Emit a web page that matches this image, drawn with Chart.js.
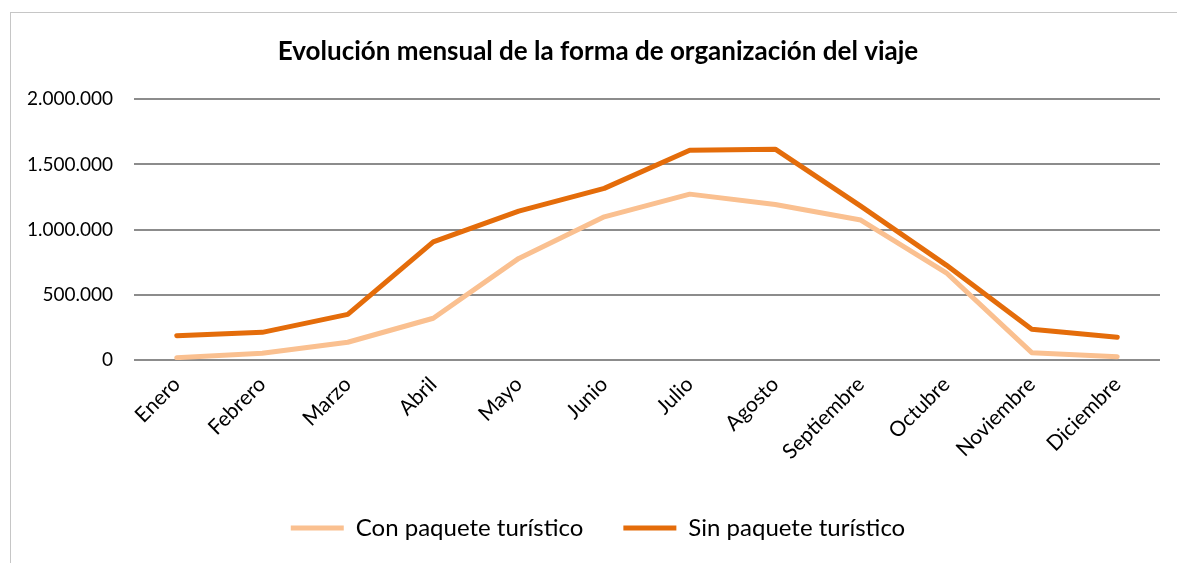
<!DOCTYPE html>
<html>
<head>
<meta charset="utf-8">
<script src="https://cdn.jsdelivr.net/npm/chart.js@4/dist/chart.umd.min.js"></script>
<style>
  body { margin: 0; background: #fff; overflow: hidden; }
  #wrap { position: absolute; left: 0; top: 0; width: 1177px; height: 563px; }
  #frame { position: absolute; left: 10px; top: 12px; width: 1180px; height: 600px; border: 1px solid #c6c6c6; }
  canvas { position: absolute; left: 0; top: 0; }
</style>
</head>
<body>
<div id="wrap">
  <div id="frame"></div>
  <canvas id="chart" width="1177" height="563"></canvas>
</div>
<script>
// datos
var meses = ['Enero', 'Febrero', 'Marzo', 'Abril', 'Mayo', 'Junio', 'Julio', 'Agosto', 'Septiembre', 'Octubre', 'Noviembre', 'Diciembre'];
var conPaquete = [18000, 51000, 136000, 320000, 779000, 1098000, 1272000, 1193000, 1073000, 669000, 56000, 25000];
var sinPaquete = [186000, 212000, 350000, 906000, 1142000, 1316000, 1609000, 1617000, 1180000, 728000, 235000, 174000];
var yTicks = [0, 500000, 1000000, 1500000, 2000000];

var fuente = 'Lato, "Open Sans", sans-serif';

function miles(v){
  return v.toString().replace(/\B(?=(\d{3})+(?!\d))/g, '.');
}

// corre un poco a la derecha el titulo y la leyenda (centrados sobre el area del grafico)
var centrarBloques = {
  id: 'centrarBloques',
  afterLayout: function(chart){
    if (chart.titleBlock) chart.titleBlock.left += 26;
    if (chart.legend) chart.legend.left += 26;
  }
};

var ctx = document.getElementById('chart').getContext('2d');
var myChart = new Chart(ctx, {
  type: 'line',
  plugins: [centrarBloques],
  data: {
    labels: meses,
    datasets: [
      {
        label: 'Con paquete turístico',
        data: conPaquete,
        borderColor: '#fac090',
        backgroundColor: '#fac090',
        borderWidth: 5,
        pointRadius: 0,
        tension: 0,
        borderCapStyle: 'round',
        borderJoinStyle: 'round'
      },
      {
        label: 'Sin paquete turístico',
        data: sinPaquete,
        borderColor: '#e46c0a',
        backgroundColor: '#e46c0a',
        borderWidth: 5,
        pointRadius: 0,
        tension: 0,
        borderCapStyle: 'round',
        borderJoinStyle: 'round'
      }
    ]
  },
  options: {
    responsive: false,
    animation: false,
    layout: { padding: { left: 10, right: 17, top: 0, bottom: 13 } },
    plugins: {
      title: {
        display: true,
        text: 'Evolución mensual de la forma de organización del viaje',
        color: '#000',
        font: { family: fuente, size: 26, weight: 'bold' },
        padding: { top: 36, bottom: 32 }
      },
      legend: {
        position: 'bottom',
        labels: {
          usePointStyle: true,
          pointStyle: 'line',
          pointStyleWidth: 53,
          color: '#000',
          font: { family: fuente, size: 24 },
          padding: 40
        }
      },
      tooltip: { enabled: false }
    },
    scales: {
      x: {
        offset: true,
        grid: { display: false },
        border: { display: false },
        ticks: {
          color: '#000',
          font: { family: fuente, size: 21 },
          maxRotation: 45,
          minRotation: 45,
          padding: 4
        },
        afterFit: function(scale){ scale.height = 116; }
      },
      y: {
        min: 0,
        max: 2000000,
        afterBuildTicks: function(scale){
          scale.ticks = yTicks.map(function(v){ return { value: v }; });
        },
        grid: { color: '#8c8c8c', lineWidth: 2, drawTicks: false },
        border: { display: false },
        ticks: {
          color: '#000',
          font: { family: fuente, size: 19 },
          padding: 21,
          callback: function(v){ return miles(v); }
        },
        afterFit: function(scale){ scale.width = 124; }
      }
    }
  }
});
</script>
</body>
</html>
